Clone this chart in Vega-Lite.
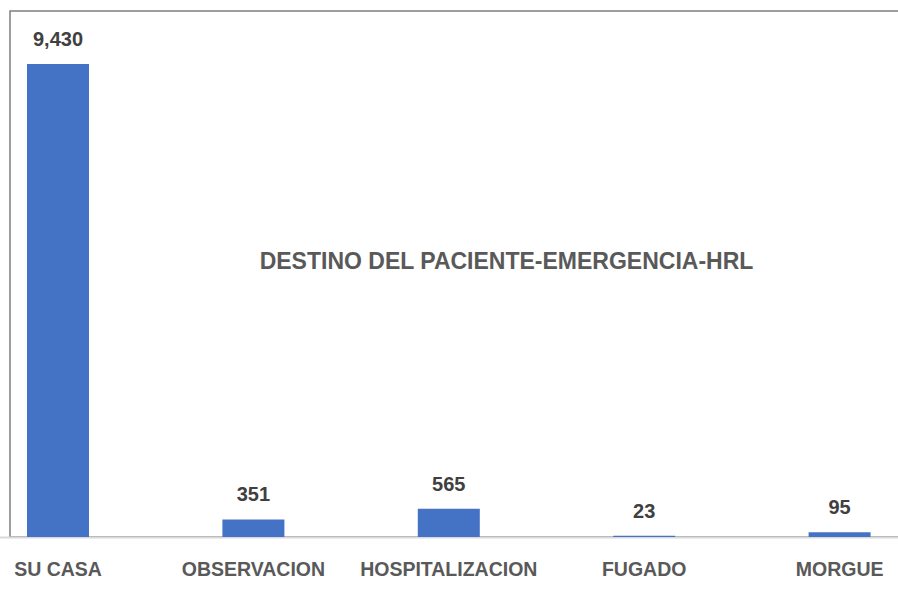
{
  "$schema": "https://vega.github.io/schema/vega-lite/v6.json",
  "width": 889,
  "height": 526,
  "autosize": {"type": "none"},
  "padding": {"left": 10, "top": 11, "right": 0, "bottom": 55},
  "background": "white",
  "config": {
    "view": {"stroke": "#7f7f7f", "strokeWidth": 1.5},
    "font": "Liberation Sans"
  },
  "title": {
    "text": "DESTINO DEL PACIENTE-EMERGENCIA-HRL",
    "font": "Liberation Sans",
    "fontSize": 23,
    "fontWeight": "bold",
    "color": "#595959",
    "anchor": "middle",
    "baseline": "middle",
    "offset": 0,
    "dx": 52,
    "dy": 274
  },
  "data": {
    "values": [
      {"destino": "SU CASA", "pacientes": 9430},
      {"destino": "OBSERVACION", "pacientes": 351},
      {"destino": "HOSPITALIZACION", "pacientes": 565},
      {"destino": "FUGADO", "pacientes": 23},
      {"destino": "MORGUE", "pacientes": 95}
    ]
  },
  "encoding": {
    "x": {
      "field": "destino",
      "type": "nominal",
      "sort": null,
      "scale": {"range": [-49.7, 927.3], "paddingInner": 0, "paddingOuter": 0},
      "axis": {
        "title": null,
        "labelAngle": 0,
        "labelFont": "Liberation Sans",
        "labelFontSize": 19.5,
        "labelFontWeight": "bold",
        "labelColor": "#595959",
        "labelPadding": 23,
        "ticks": false,
        "domainColor": "#d9d9d9",
        "domainWidth": 2,
        "grid": false
      }
    },
    "y": {
      "field": "pacientes",
      "type": "quantitative",
      "scale": {"domain": [0, 10487], "nice": false},
      "axis": null
    }
  },
  "layer": [
    {
      "mark": {"type": "bar", "color": "#4472C4", "width": 62}
    },
    {
      "mark": {
        "type": "text",
        "baseline": "alphabetic",
        "dy": -18,
        "font": "Liberation Sans",
        "fontSize": 20,
        "fontWeight": "bold",
        "color": "#404040"
      },
      "encoding": {
        "text": {"field": "pacientes", "type": "quantitative", "format": ","}
      }
    }
  ]
}
